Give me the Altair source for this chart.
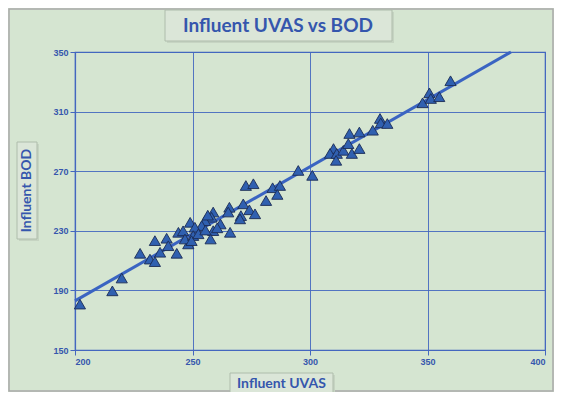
import altair as alt
import pandas as pd

uvas = [202.1, 215.9, 219.9, 227.7, 231.9, 234.0, 234.0, 236.2, 239.0, 239.7,
        243.3, 244.0, 246.0, 249.0, 248.2, 246.8, 272.7, 275.9, 284.1, 287.2,
        286.1, 281.3, 265.7, 265.2, 271.6, 274.2, 270.6, 270.2, 276.6, 266.0,
        258.8, 258.1, 261.9, 255.3, 253.9, 258.8, 257.7, 251.0, 250.3, 249.6,
        295.0, 301.0, 310.0, 308.5, 311.4, 311.1, 314.2, 316.3, 316.8, 317.8,
        321.0, 321.0, 326.7, 329.8, 330.1, 332.9, 347.9, 350.8, 351.4, 355.0,
        359.8, 252.5, 255.5, 260.5, 256.5]
bod = [180.8, 189.7, 198.3, 214.9, 211.0, 209.3, 223.4, 215.6, 225.0, 220.0,
       214.9, 229.0, 230.0, 235.7, 221.2, 224.5, 260.4, 261.6, 258.9, 260.4,
       254.4, 250.3, 245.8, 242.6, 248.1, 244.1, 240.2, 238.0, 241.4, 229.0,
       242.6, 239.1, 234.6, 236.8, 233.5, 230.1, 224.5, 232.4, 226.8, 223.4,
       270.5, 267.2, 285.2, 281.9, 281.9, 277.3, 284.0, 288.5, 295.3, 281.9,
       285.2, 296.3, 297.5, 305.4, 302.4, 302.0, 315.9, 322.6, 318.8, 320.0,
       330.7, 228.0, 230.5, 232.0, 240.5]

fit_x = [200.0, 385.5]
fit_y = [183.0, 350.0]

x_ticks = [200, 250, 300, 350, 400]
y_ticks = [150, 190, 230, 270, 310, 350]

title_text = "Influent UVAS vs BOD"
x_title = "Influent UVAS"
y_title = "Influent BOD"

BG = "#d5e5d1"
BLUE = "#4467bf"
TXT = "#3556ad"
BOXF = "#dbe6d8"
BOXS = "#aebcab"

pts = pd.DataFrame({"UVAS": uvas, "BOD": bod})
fit = pd.DataFrame({"UVAS": fit_x, "BOD": fit_y})
one = pd.DataFrame({"a": [0]})

xs = alt.Scale(domain=[200, 400], nice=False, zero=False)
ys = alt.Scale(domain=[150, 350], nice=False, zero=False)

axis_common = dict(
    grid=True, gridColor=BLUE, gridWidth=1, gridOpacity=0.9,
    domainColor=BLUE, domainWidth=1.2, tickColor=BLUE, tickSize=5, tickWidth=1,
    labelColor=TXT, labelFont="Liberation Sans", labelFontSize=9,
    labelFontWeight="bold", title=None,
)

points = alt.Chart(pts).mark_point(
    shape="triangle-up", filled=True, size=125, fill="#3060b0",
    stroke="#1b2b55", strokeWidth=0.9, opacity=1
).encode(
    x=alt.X("UVAS:Q", scale=xs, axis=alt.Axis(values=x_ticks, labelPadding=2, **axis_common)),
    y=alt.Y("BOD:Q", scale=ys, axis=alt.Axis(values=y_ticks, labelPadding=2, **axis_common)),
)

line = alt.Chart(fit).mark_line(color="#3a64c2", strokeWidth=3).encode(
    x=alt.X("UVAS:Q", scale=xs), y=alt.Y("BOD:Q", scale=ys)
)

frame = alt.Chart(one).mark_rect(fill=None, stroke="#a9a9a9", strokeWidth=1.5).encode(
    x=alt.value(-66), x2=alt.value(478), y=alt.value(-43), y2=alt.value(339)
)

tshadow = alt.Chart(one).mark_rect(fill="#c6d4c2", stroke=None).encode(
    x=alt.value(92), x2=alt.value(319), y=alt.value(-40), y2=alt.value(-9)
)
tbox = alt.Chart(one).mark_rect(fill=BOXF, stroke=BOXS, strokeWidth=1).encode(
    x=alt.value(90), x2=alt.value(317), y=alt.value(-42), y2=alt.value(-11)
)
ttext = alt.Chart(one).mark_text(
    text=title_text, font="Lato", fontSize=19, fontWeight="bold", color=TXT,
    align="center", baseline="middle"
).encode(x=alt.value(203), y=alt.value(-26))

xshadow = alt.Chart(one).mark_rect(fill="#c6d4c2", stroke=None).encode(
    x=alt.value(157), x2=alt.value(260), y=alt.value(323), y2=alt.value(344)
)
xbox = alt.Chart(one).mark_rect(fill=BOXF, stroke=BOXS, strokeWidth=1).encode(
    x=alt.value(155), x2=alt.value(258), y=alt.value(321), y2=alt.value(342)
)
xtext = alt.Chart(one).mark_text(
    text=x_title, font="Lato", fontSize=14, fontWeight="bold", color=TXT,
    align="center", baseline="middle"
).encode(x=alt.value(206.5), y=alt.value(331.5))

yshadow = alt.Chart(one).mark_rect(fill="#c6d4c2", stroke=None).encode(
    x=alt.value(-56), x2=alt.value(-36), y=alt.value(92), y2=alt.value(189)
)
ybox = alt.Chart(one).mark_rect(fill=BOXF, stroke=BOXS, strokeWidth=1).encode(
    x=alt.value(-58), x2=alt.value(-38), y=alt.value(90), y2=alt.value(187)
)
ytext = alt.Chart(one).mark_text(
    text=y_title, font="Lato", fontSize=14, fontWeight="bold", color=TXT,
    align="center", baseline="middle", angle=270
).encode(x=alt.value(-48), y=alt.value(138.5))

chart = alt.layer(
    frame, tshadow, tbox, ttext, xshadow, xbox, xtext, yshadow, ybox, ytext, line, points
).properties(
    width=470, height=298,
    autosize=alt.AutoSizeParams(type="none"),
    padding={"left": 67, "top": 44, "right": 9, "bottom": 42},
    background=BG,
).configure_view(stroke=BLUE, strokeWidth=1.2)

chart.save("out.html", embed_options={"renderer": "svg", "actions": False})
